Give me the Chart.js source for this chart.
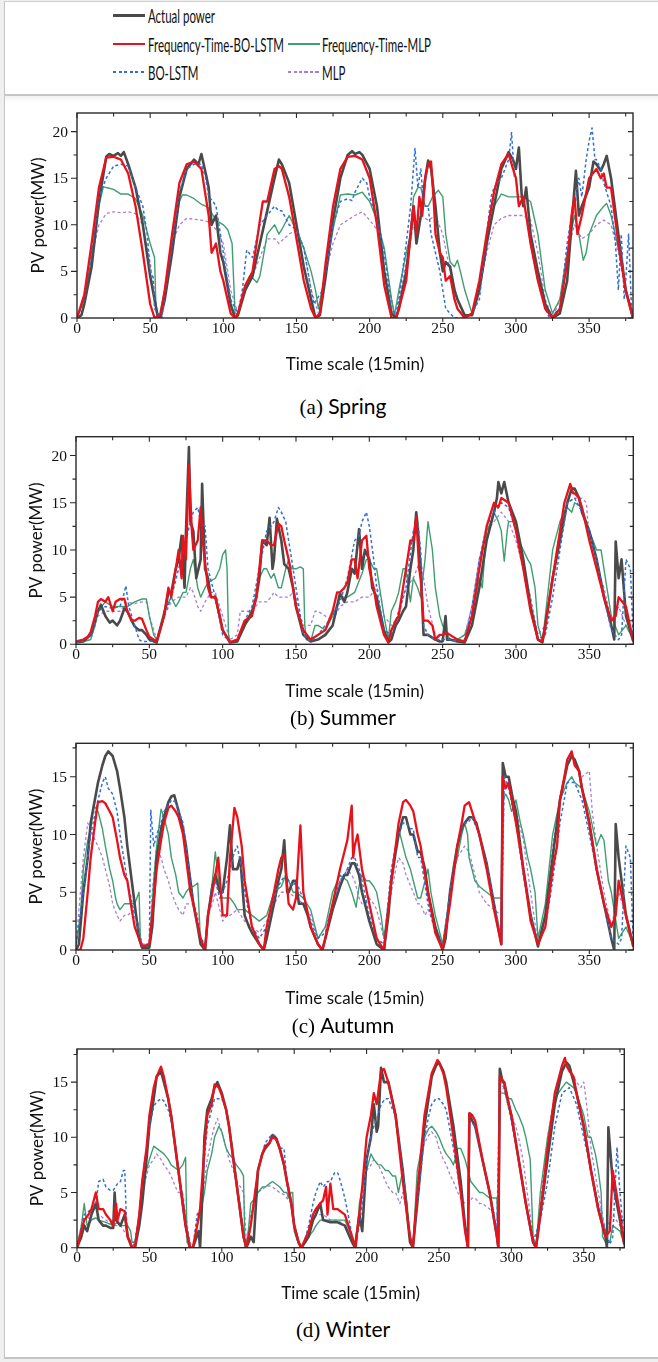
<!DOCTYPE html>
<html>
<head>
<meta charset="utf-8">
<script src="https://cdn.jsdelivr.net/npm/chart.js@4.4.0/dist/chart.umd.min.js"></script>
<style>
  html, body { margin: 0; padding: 0; background: #efefef; }
  #page { position: relative; width: 658px; height: 1362px; overflow: hidden; }
  #sheet { position: absolute; left: 4px; top: 1px; width: 654px; height: 1358px; background: #fff;
           border-left: 1.5px solid #c4c4c4; border-top: 1px solid #cfcfcf; border-bottom: 2px solid #c4c4c4; box-sizing: border-box; }
  #divider { position: absolute; left: 4px; top: 94px; width: 654px; height: 2px; background: #c6c6c6; }
  #shade { position: absolute; left: 5px; top: 96px; width: 653px; height: 6px; background: linear-gradient(#f1f1f1, #fff); }
  .swatch { position: absolute; height: 0; }
  .legend-text { position: absolute; font-family: Lato, sans-serif; font-size: 20px; color: #111; white-space: nowrap;
                 line-height: 1; transform-origin: left center; }
  canvas { position: absolute; left: 0; }
  .caption { position: absolute; transform: translate(-50%, -50%); white-space: nowrap; color: #000; font-size: 21px; }
  .caption .tag { font-family: "Liberation Serif", "Times New Roman", serif; }
  .caption .season { font-family: Lato, sans-serif; }
</style>
</head>
<body>
<div id="page">
  <div id="sheet"></div>
  <div id="divider"></div>
  <div id="shade"></div>
  <div id="legend"></div>
  <canvas id="springChart" width="658" height="280" style="top:100px"></canvas>
  <canvas id="summerChart" width="658" height="290" style="top:420px"></canvas>
  <canvas id="autumnChart" width="658" height="290" style="top:728px"></canvas>
  <canvas id="winterChart" width="658" height="280" style="top:1035px"></canvas>
  <div class="caption" style="left:343px; top:406px"><span class="tag">(a)</span> <span class="season">Spring</span></div>
  <div class="caption" style="left:343px; top:717px"><span class="tag">(b)</span> <span class="season">Summer</span></div>
  <div class="caption" style="left:343px; top:1025px"><span class="tag">(c)</span> <span class="season">Autumn</span></div>
  <div class="caption" style="left:343px; top:1329px"><span class="tag">(d)</span> <span class="season">Winter</span></div>
</div>
<script>
// ---- data: [time step (15 min), PV power (MW)] ----
const seriesNames = ['Actual power', 'Frequency-Time-BO-LSTM', 'Frequency-Time-MLP', 'BO-LSTM', 'MLP'];
const timeTicks = [0, 50, 100, 150, 200, 250, 300, 350];
const powerTicksHigh = [0, 5, 10, 15, 20];
const powerTicksLow = [0, 5, 10, 15];
const xTitle = 'Time scale (15min)';
const yTitle = 'PV power(MW)';

const springActual = [[0,0],[3,0.3],[5,1.5],[10,5.5],[15,12.5],[20,17.3],[22,17.6],[25,17.4],[28,17.7],[30,17.4],[32,17.8],[35,16.5],[40,14],[45,10],[50,4.5],[55,0.3],[57,0],[60,2],[65,7],[70,13],[75,16],[80,17],[83,16.5],[85,17.6],[88,15.5],[90,14],[92,10],[95,11],[98,7],[100,6],[105,1.5],[108,0],[110,0.3],[115,3],[120,4.5],[125,8],[130,11.5],[135,15],[138,17],[140,16.5],[145,14.5],[150,10],[155,5.5],[160,2],[163,0],[166,0.3],[170,4.5],[175,10.5],[180,15],[185,17.5],[188,17.9],[190,17.6],[193,17.8],[195,17.5],[200,16],[205,12],[210,5],[215,0.5],[218,0],[220,1],[225,5],[228,9],[230,12],[232,8],[235,11],[238,15],[240,16.9],[242,16],[245,12],[248,7],[250,5],[252,6],[255,5.5],[258,3],[260,2],[265,0.3],[270,0.3],[275,3],[280,8],[285,12],[290,16],[295,17.8],[298,17],[300,16],[302,18.3],[304,13],[305,12],[307,14],[310,9],[315,5],[320,1.5],[325,0],[330,0.5],[335,4],[338,10],[341,15.8],[343,11],[345,12],[350,14],[353,16.8],[355,16.5],[358,15.8],[360,16.5],[362,17.4],[365,15],[370,9],[375,3],[380,0]];
const springFtBoLstm = [[0,0],[5,2.5],[10,8],[15,14],[20,17.2],[25,17.3],[30,17],[35,15.5],[40,12],[45,7],[50,1.5],[53,0],[57,0.3],[60,3],[65,9],[70,14.5],[75,16.5],[80,16.8],[85,16],[88,13],[90,11],[92,7],[95,8],[98,5],[100,4],[105,0.5],[108,0],[110,0.5],[115,3.5],[120,5],[125,10.5],[127,12.5],[130,12.5],[135,16],[138,16.3],[140,16],[145,13],[150,8.5],[155,4],[160,1],[163,0],[166,0.5],[170,6],[175,12],[180,16],[185,17.3],[190,17.4],[195,17],[200,15],[205,10],[210,3.5],[215,0],[218,0],[220,1],[225,4],[228,9],[230,12],[232,9],[234,13],[236,11],[238,15],[240,16.5],[242,16.8],[244,12],[245,9],[248,7],[250,6.5],[252,4],[255,4.5],[258,2],[260,1],[265,0],[270,0.5],[275,4],[280,9],[285,13.5],[290,16.5],[295,17.6],[298,16],[300,15],[302,12],[305,13],[307,11],[310,8],[315,4],[320,1],[325,0],[330,1],[335,6],[338,11],[340,13],[342,9],[345,11],[350,15],[355,16],[358,15],[360,15.5],[362,14],[365,14],[370,8],[375,3],[380,0]];
const springFtMlp = [[0,0],[5,2],[10,6.5],[15,12],[18,14.1],[20,14],[25,13.8],[30,13.3],[35,13.3],[40,12.8],[45,11],[50,8],[53,6.5],[54,1],[56,0],[60,3],[65,8],[70,12.5],[72,13.2],[75,13.2],[80,12.8],[85,12.2],[88,12],[90,11.8],[95,10.5],[100,10],[103,9.5],[106,8],[108,0.5],[110,0.5],[115,3],[118,4.5],[120,4.3],[123,3.8],[125,4.5],[130,9],[135,10],[138,9],[140,9.5],[145,11],[148,10],[150,9.5],[155,7.5],[160,5],[163,3],[165,1],[170,5],[175,9.5],[180,13.2],[185,13.3],[190,13.2],[195,13.5],[200,12.5],[205,10.5],[210,7.5],[215,2],[217,0.3],[220,3],[225,7],[228,9],[230,13],[233,14],[235,14],[238,12],[240,12],[243,13],[247,13.7],[250,13],[252,9],[255,6],[258,5.5],[260,6.2],[262,5],[265,3],[270,0.5],[275,3],[280,8],[285,12],[290,13.3],[295,13],[300,13],[305,13],[310,12.5],[315,9],[320,3],[325,0.5],[330,2],[335,7],[340,11],[343,9],[346,6.2],[348,7],[350,9],[355,11],[360,12],[362,12.3],[365,11],[370,7.5],[375,3],[380,0.5]];
const springBoLstm = [[0,0],[5,2],[10,7],[15,13],[20,15],[25,16.3],[30,16.5],[35,16.3],[40,14],[45,12],[48,9],[50,5],[52,4.4],[53,1],[55,0.5],[58,0],[60,2.5],[65,8],[70,13.5],[75,16],[80,16.5],[85,16.5],[88,15],[90,13],[93,12.5],[95,12],[98,9],[100,7],[105,2],[110,0.5],[113,3],[116,7.3],[120,6.5],[125,10],[130,11],[135,12],[138,11.5],[140,11.5],[145,10],[150,9.5],[155,7.5],[160,3],[162,1.5],[165,2.3],[168,3],[170,5],[175,10],[180,12.5],[185,12.8],[188,12.6],[190,13.5],[195,15],[198,14.5],[200,13],[205,10.5],[210,7],[215,1],[218,0.3],[220,2],[225,8],[228,12],[231,18.2],[233,14],[235,16],[237,12],[240,12],[242,9],[245,7],[248,5],[250,3],[252,1],[255,0.5],[258,0],[265,0],[270,0.5],[275,2],[280,9],[283,13],[285,14],[290,15],[295,17],[297,19.9],[299,15],[300,15],[302,12],[305,13],[310,8],[315,4],[320,1],[323,0],[325,0.3],[330,1],[335,8],[338,11],[340,12],[343,15],[345,13],[348,17],[350,19],[352,20.4],[354,17],[355,17],[358,16],[360,14.5],[365,12],[368,8],[370,3],[372,9],[374,2],[375,4],[377,9],[379,1],[380,0]];
const springMlp = [[0,0],[5,2],[10,6.5],[15,10],[20,11.2],[25,11.4],[30,11.3],[35,11.4],[40,11.2],[45,10],[50,6],[55,0.5],[58,0.3],[60,3],[65,8],[70,10],[75,10.7],[80,10.6],[85,10.5],[90,10.3],[95,9.5],[100,8],[105,3],[110,0.5],[115,3],[120,4.5],[125,6.5],[130,8.5],[135,8.5],[138,8],[140,8.3],[145,9],[150,9.5],[155,7.5],[160,3],[165,0.5],[170,5],[175,8],[180,10],[185,10.5],[190,11],[195,11.4],[200,10.5],[205,9.5],[210,7],[215,2],[217,0.5],[220,2],[225,6],[230,10],[235,11],[240,10.5],[245,11],[250,9],[255,5],[260,2],[265,0],[270,0.5],[275,3],[280,7],[285,10],[290,10.7],[295,11],[300,11],[305,11],[310,10.5],[315,7],[320,2],[325,0],[330,2],[335,7],[340,10],[345,8.5],[350,9],[355,10],[360,10.5],[365,10],[370,7],[375,3],[380,0]];

const summerActual = [[0,0.2],[5,0.3],[10,1],[13,2.5],[15,3.5],[17,4.2],[20,3],[23,2.3],[25,2.5],[28,2],[30,2.5],[33,3.8],[35,3.5],[38,2.5],[40,1.9],[43,1.5],[45,1.5],[48,1],[50,0.5],[55,0.2],[60,3],[63,5.5],[65,5.5],[68,8],[70,9],[72,11.5],[74,6],[75,12],[77,20.9],[78,13],[80,12],[82,7],[85,9],[86,17],[88,8],[90,7],[92,5],[95,5],[98,3],[100,1.5],[105,0.2],[110,0.3],[115,2],[120,3.5],[123,5],[125,7],[127,11],[130,10.5],[132,13.4],[134,8],[135,9],[137,13.3],[140,11],[142,8.5],[145,8],[148,6],[150,4],[155,1],[160,0.3],[165,0.5],[170,1],[175,2],[178,4],[180,5.4],[183,4.5],[185,5.5],[188,8],[190,7.5],[193,12.2],[195,8],[197,10],[200,9],[202,6],[205,5],[210,1.5],[213,0.2],[215,0.5],[218,2],[220,2.5],[223,3.5],[225,4],[228,8],[230,10],[232,14],[233,12.5],[235,8],[237,1],[240,1],[245,0.5],[248,0.3],[250,0.3],[252,3],[253,0.5],[255,0.5],[260,0.3],[265,0.2],[270,2],[275,6],[280,11],[285,14],[287,15.5],[288,17.2],[290,16],[292,17.2],[295,15],[300,13],[305,9],[310,4],[315,0.5],[318,0.2],[320,2],[325,7],[330,11],[335,15],[338,16.5],[340,16.5],[343,15.5],[345,14],[350,12],[355,9],[360,5],[365,2],[367,0.5],[368,10.9],[370,7],[372,9],[375,3],[380,0.3]];
const summerFtBoLstm = [[0,0.3],[5,0.5],[8,0.8],[10,1.3],[13,3],[15,4.5],[17,4.8],[20,4.5],[22,5],[25,3.5],[27,4.5],[30,4.8],[33,4.8],[35,3.5],[38,2.5],[40,2.5],[43,2.8],[45,2.7],[48,1.5],[50,0.8],[55,0.3],[60,3],[63,6],[65,5],[68,8],[70,10],[72,7],[73,11.5],[75,9],[77,19],[79,12],[80,10],[83,11],[85,14.5],[87,10],[90,6],[92,5],[95,5],[100,1.5],[105,0.2],[110,0.5],[115,2.5],[120,3],[123,5],[125,8],[127,11],[130,11],[133,10.5],[135,10.5],[138,12.8],[140,12.5],[142,11],[145,9],[148,6],[150,4],[155,1.5],[160,0.5],[165,1],[170,1.5],[175,3.5],[178,5.5],[180,5.5],[183,6],[185,6.5],[188,9],[190,9],[192,7],[195,11],[198,11.5],[200,8],[203,6],[205,4],[210,1],[213,0.2],[215,1.5],[218,2.5],[220,3],[223,6],[225,8],[228,11],[230,11],[232,13.5],[234,8],[235,7],[237,2.5],[240,2.5],[243,2],[245,0.5],[248,1],[250,1],[253,1.2],[255,1],[260,0.5],[265,0.3],[270,3],[275,8],[280,12.5],[285,15],[288,14.5],[290,15.5],[295,15],[300,12],[305,8],[310,3.5],[315,0.5],[318,0.3],[320,2],[325,7],[330,12],[333,15],[335,16],[337,17],[339,16],[340,16],[343,15.5],[345,14.5],[350,11],[355,8],[360,5],[365,2.5],[368,3],[370,5],[375,4],[380,0.3]];
const summerFtMlp = [[0,0.2],[5,0.3],[10,0.5],[13,2],[15,3.5],[20,4.5],[25,4],[30,4],[35,4],[40,4.5],[45,4.8],[48,4.8],[50,3],[53,1],[55,0.5],[60,3.5],[65,5],[68,4],[70,4.5],[73,5.5],[75,5.5],[78,8],[80,9],[83,6],[85,5],[88,6],[90,6.5],[95,7],[98,8],[100,9.5],[102,10],[103,8],[104,1],[105,0.3],[110,0.3],[115,2],[120,3],[125,7],[128,8],[130,8],[133,7],[135,7.5],[138,6],[140,6],[143,8],[145,9],[147,8],[150,8],[153,8.2],[155,8],[156,2],[157,0.5],[160,0.3],[163,2],[165,2],[170,1.5],[175,3],[180,5],[185,5],[190,5.5],[195,7.5],[198,9],[200,9],[203,8],[205,8],[208,5],[210,3],[213,0.5],[215,3.5],[218,4.5],[220,5.5],[223,8],[225,8],[228,4.5],[230,7],[233,6],[235,5],[238,9],[240,13],[242,11],[243,10],[245,6],[248,3],[250,2],[255,0.5],[260,0.5],[265,1],[270,3],[275,7],[277,6],[280,12],[283,13],[285,14],[288,13],[290,12],[292,8.8],[294,12],[295,13],[298,13],[300,13],[302,11],[305,10],[308,9],[310,8.5],[313,6],[315,2],[318,0.3],[320,3],[325,10],[330,13],[333,14],[335,14.5],[338,14],[340,15],[345,14.5],[350,12],[355,10],[358,10],[360,8],[365,3],[370,1],[375,2],[380,0.5]];
const summerBoLstm = [[0,0.2],[5,0.3],[10,1],[15,3.5],[20,4],[25,3.8],[30,4],[33,5.5],[34,6.2],[36,4],[40,2],[43,0.5],[45,0.3],[50,0.3],[55,0.5],[60,3],[65,5],[70,8],[75,11],[78,13],[80,14],[83,14.5],[85,13],[88,12.5],[90,8],[95,5],[100,1],[105,0.3],[110,0.5],[115,2.5],[120,4],[125,8],[130,12],[133,12.5],[135,13],[138,14.5],[140,14],[143,13],[145,11],[148,8],[150,6],[155,1],[160,0.3],[165,1],[170,2],[175,3],[180,4.5],[185,7],[190,11],[193,11.5],[195,13],[198,14],[200,12.5],[203,9],[205,6],[210,1.5],[215,1],[220,3.5],[225,6],[230,12],[233,13],[235,10],[237,2],[240,1],[245,0.5],[250,0.5],[255,0.5],[260,0.3],[265,0.5],[270,4],[275,9],[280,12.5],[285,14],[290,15],[295,14.5],[300,12],[305,8],[310,3.5],[315,0.5],[320,1],[325,5],[330,10],[335,15],[340,15.5],[345,14],[350,12],[355,9],[360,5],[365,1.5],[370,0.5],[372,1],[375,9],[378,8],[380,0.5]];
const summerMlp = [[0,0.2],[5,0.3],[10,0.5],[15,3],[20,3.5],[25,3.5],[30,3.5],[35,4.5],[40,4.3],[45,4.5],[48,4.5],[50,3],[55,0.5],[60,3],[65,4.5],[70,5],[75,5],[78,6],[80,5.5],[83,4],[85,3.5],[88,4.5],[90,5],[92,5.5],[95,5.5],[98,4],[100,3],[105,0.5],[110,1],[112,3.5],[115,3.5],[120,3.5],[125,4.5],[130,4.5],[133,5],[135,5.5],[138,5],[140,5],[145,5],[148,5.5],[150,5],[153,3],[155,2],[160,2],[163,3.5],[165,3.5],[170,3],[175,2.5],[180,4],[185,4.5],[190,4.5],[195,5],[200,5],[205,6],[208,5],[210,3],[215,2],[220,3],[225,6],[230,7],[235,9],[238,6],[240,4],[245,1],[250,0.5],[255,0.5],[260,0.5],[265,1],[270,4],[275,9],[280,12],[285,13],[290,14],[295,13],[300,11],[305,8],[310,5],[315,1],[320,2],[325,7],[330,12],[335,15],[340,15.5],[345,15.5],[348,15],[350,11],[355,8],[360,6],[365,2.5],[370,4],[375,2],[380,0.5]];

const autumnActual = [[0,0],[2,0.5],[5,5],[8,8],[10,11],[15,14.5],[18,16],[20,16.8],[22,17.2],[25,16.8],[28,15.5],[30,14],[33,11.5],[35,9],[38,6],[40,4],[43,1],[45,0.2],[50,0.2],[52,2],[55,8],[58,10.5],[60,11.5],[63,12.8],[65,13.3],[67,13.4],[70,12],[73,10.5],[75,9],[78,6],[80,4],[83,2],[85,0.5],[88,0],[90,3],[93,5.5],[95,6.5],[98,5],[100,5],[103,8],[105,10.8],[107,7],[110,7],[112,8],[115,3],[118,2],[120,1.5],[125,0.5],[128,0],[130,1],[135,4],[138,6],[140,7],[142,9.5],[144,5],[145,5],[148,6],[150,6],[152,4],[155,4],[158,3],[160,2],[165,0.5],[168,0],[170,1],[175,3.5],[180,5.5],[183,6.5],[185,6.5],[188,7.5],[190,7.5],[193,6.5],[195,5],[200,2.5],[205,0.5],[210,0],[213,3],[215,6],[218,8.5],[220,10],[223,11.5],[225,11.5],[228,10],[230,10],[233,8.5],[235,8.5],[238,7],[240,5],[245,2],[250,0],[252,1],[255,5],[258,7.5],[260,9],[263,10.5],[265,11],[268,11.5],[270,11.5],[273,11],[275,10],[280,7.5],[285,4],[290,0.5],[291,16.2],[293,15],[295,15],[298,13],[300,12],[305,7],[310,3],[315,0.3],[320,3],[325,8],[330,13],[335,16],[338,16.8],[340,16.5],[343,15.5],[345,14],[350,11],[355,7],[360,4],[365,1],[367,0],[368,10.9],[370,8],[375,3],[380,0.3]];
const autumnFtBoLstm = [[0,0],[3,0],[5,1],[8,5],[10,8],[13,11],[15,12.8],[18,12.9],[20,12.7],[23,12],[25,11.5],[28,9.5],[30,8],[33,6.5],[35,6],[38,3.5],[40,2],[45,0.3],[50,0.5],[52,3],[55,7],[58,9.5],[60,11],[63,12.3],[65,12.5],[68,12],[70,11.5],[73,10],[75,8],[78,5],[80,4],[85,1],[88,0],[90,3],[93,5],[95,6.5],[97,8],[100,3],[103,3],[105,8],[108,12.3],[110,11.5],[113,9],[115,6],[120,2],[125,0.5],[128,0],[130,2],[135,5],[138,7],[140,8],[142,8.3],[145,4],[148,3.5],[150,4.5],[153,10.8],[155,5],[160,2],[165,0.5],[168,0],[170,1],[175,4],[180,7],[185,9.5],[188,12.5],[189,8],[190,9],[192,10],[195,7],[200,4],[205,1],[210,0],[215,6],[220,11],[223,12.8],[225,13],[228,12.5],[230,12],[233,10],[235,9],[238,6.5],[240,5],[245,1.5],[250,0],[255,4],[260,9],[263,11],[265,12.5],[268,12.8],[270,12],[275,10],[280,7],[285,3.5],[290,0.5],[291,15],[293,14],[295,14.5],[300,11],[305,7],[310,2.5],[315,0.5],[320,2],[325,7],[328,9],[330,13],[333,15],[335,16.5],[338,17.2],[340,16],[343,15.5],[345,14],[350,11],[355,7],[360,4],[365,2],[368,3],[370,6],[375,3],[380,0.3]];
const autumnFtMlp = [[0,0.3],[3,3],[5,7],[8,9.5],[10,10.5],[12,12.5],[15,12],[18,10.5],[20,9],[23,7],[25,6],[27,4.5],[28,4],[30,3.5],[33,4],[35,4],[38,4],[40,4],[43,5],[44,0.5],[45,0.3],[50,0.3],[53,6],[55,9],[58,12.2],[60,11.5],[63,10],[65,8],[68,6.5],[70,5],[73,4.5],[75,5],[78,5.5],[80,5.5],[83,5.8],[85,0.5],[88,0.3],[90,3],[93,6],[95,8.5],[98,5],[100,4.5],[103,4.5],[105,4.5],[108,4],[110,3.5],[115,3.5],[120,3],[125,2.5],[130,3],[135,5],[140,5.5],[143,6.5],[145,6],[148,5],[150,5],[155,4.5],[160,3.5],[165,1],[170,2],[175,5],[180,6.5],[185,6],[188,5],[191,3.7],[193,5.5],[195,6.5],[198,6],[200,6],[203,5.5],[205,5],[208,3],[210,1],[213,4],[215,6],[218,9],[220,10.5],[223,9],[225,8],[228,7],[230,6],[233,4.5],[235,4.5],[238,6],[240,7],[242,5],[245,3],[250,0.5],[253,3],[255,5],[258,7],[260,8],[263,10],[265,11],[267,10],[268,8],[270,7],[272,6],[275,5.5],[280,5],[285,4.5],[290,4.5],[291,13],[293,13.5],[295,13],[297,12],[300,13],[303,11],[305,10],[308,8],[310,7],[313,5],[315,1],[320,4],[325,10],[330,13],[335,14.5],[338,15],[340,14.5],[345,14],[350,12],[355,9],[358,10],[360,9.5],[363,6],[365,5],[370,1],[375,2],[380,0.5]];
const autumnBoLstm = [[0,0.5],[5,5],[10,10],[15,13],[18,14.5],[20,15],[22,14],[25,13.5],[28,12],[30,10],[35,6],[40,3],[45,0.5],[50,0.5],[51,12.1],[53,9],[55,10],[58,11],[60,12],[63,12.5],[65,13],[68,12.8],[70,12],[73,11],[75,9],[78,6],[80,4],[85,1],[88,0.5],[90,3],[93,5.5],[95,6],[98,4.5],[100,5],[103,6],[105,7],[108,8.5],[110,9],[113,7],[115,5],[120,2],[125,1],[130,2],[135,4.5],[138,5.5],[140,6],[143,6.5],[145,6],[148,5.5],[150,6],[153,5],[155,4.5],[160,2.5],[165,1],[170,1.5],[175,4],[180,6],[183,6.5],[185,7],[188,8],[190,8],[193,7],[195,6],[200,3],[205,1],[210,0.5],[215,7],[218,9],[220,10],[223,11],[225,11],[228,10.5],[230,10.5],[233,8],[235,8],[240,4],[245,1.5],[250,0.3],[255,5],[260,9],[265,11],[267,11],[270,11.5],[275,10],[280,7.5],[285,4],[290,1],[292,15],[295,14],[300,11],[305,6.5],[310,3],[315,0.5],[320,2],[325,6],[330,11],[335,14.5],[340,14.5],[345,13],[350,10],[355,7],[360,4],[365,1],[370,0.5],[372,1],[375,9],[378,8],[380,0.5]];
const autumnMlp = [[0,0.5],[3,5],[5,8],[8,11],[10,10.5],[13,9.5],[15,9],[18,8],[20,7],[23,5.5],[25,4],[28,3],[30,2.5],[33,3],[35,3],[40,3.5],[43,2],[45,0.5],[50,0.5],[52,5],[55,9],[58,8],[60,7],[63,6],[65,5],[68,4],[70,3.5],[73,3],[75,4],[78,4],[80,4],[83,3],[85,0.5],[88,0.3],[90,3],[93,4],[95,5],[98,3.5],[100,2.5],[103,3],[105,3],[110,3.5],[115,2.5],[120,2],[125,1.5],[130,2.5],[135,4],[140,5],[145,5],[150,4.5],[155,4],[160,3],[165,1],[170,2],[175,4],[180,6],[185,7],[188,6.5],[190,6],[193,4.5],[195,4],[200,4.5],[203,4],[205,3.5],[210,1],[215,5],[218,7],[220,8],[223,7.5],[225,6.5],[230,5],[233,4],[235,4],[238,3],[240,3.5],[245,2],[250,0.5],[255,5],[258,7],[260,8],[265,9],[268,8.5],[270,7.5],[275,5],[280,4],[285,3.5],[290,3],[292,14],[295,14],[300,12],[305,9.5],[310,5],[315,0.5],[320,3],[325,9],[330,13],[335,16],[338,16.8],[340,16.5],[345,15],[350,15.5],[352,12],[355,9],[360,5],[365,2],[370,5],[375,3],[380,0.5]];

const winterActual = [[0,0],[3,1],[5,2],[7,1.5],[10,3],[13,4],[15,2.5],[18,2],[20,2],[23,1.8],[25,1.8],[26,5],[27,2.5],[30,2],[33,3],[35,1],[38,0],[40,0],[43,2],[45,4],[48,8],[50,11],[53,13.5],[55,15.5],[58,16],[60,15],[63,13.5],[65,12],[68,9],[70,7],[73,4],[75,2],[78,0],[80,0],[84,1.5],[85,0],[87,6],[88,10],[90,12.5],[93,13.5],[95,14.5],[97,15],[100,14],[103,12.5],[105,11],[108,8],[110,6],[113,3],[115,1],[117,0],[120,1],[122,0.5],[125,7],[128,8.5],[130,9],[133,9.5],[135,10.2],[137,10],[140,9],[143,7.5],[145,6],[148,4],[150,2],[153,0.5],[155,0],[160,1],[163,2.5],[165,3],[168,4],[170,2.5],[175,2.3],[180,2.3],[185,2],[190,0.5],[192,0],[195,3],[197,1.5],[200,8],[203,10],[205,13],[207,10.5],[208,11],[210,16.3],[212,15],[215,15],[220,12],[225,7],[228,3],[230,0.5],[232,0],[235,4],[240,11],[245,15.5],[248,16.5],[250,16.8],[253,16],[255,15],[260,11],[265,6],[268,2],[270,0],[271,12.1],[273,11.5],[275,11],[280,8],[285,5],[290,1],[291,0],[292,16.2],[294,15],[295,15],[298,13],[300,12],[305,8],[310,4],[315,0.5],[317,0],[320,3],[325,8],[330,13],[335,16],[338,16.8],[340,16.5],[345,14],[350,11],[355,7],[360,3.5],[365,1],[366,0],[367,10.9],[370,6],[375,2.5],[378,0.3]];
const winterFtBoLstm = [[0,0],[5,2.5],[8,3],[10,3.5],[13,5],[15,3.5],[18,3.5],[20,3],[23,2.5],[25,2],[27,4],[28,2.5],[30,3.5],[33,3.3],[35,1],[38,0],[40,0],[43,3],[45,6],[48,9],[50,12],[53,14.5],[55,15.5],[58,16.4],[60,15.5],[63,13.5],[65,12],[68,9],[70,7],[73,4],[75,2],[78,0],[80,0],[83,2],[85,3.5],[88,9],[90,12],[93,13],[95,14.8],[98,14.5],[100,13.8],[103,12.5],[105,11],[108,8],[110,6],[113,3],[115,1],[117,0],[120,2],[123,5],[125,7],[128,8.5],[130,9.2],[133,9.5],[135,10],[138,9.8],[140,9],[143,7.5],[145,6],[148,4],[150,2],[153,0.5],[155,0],[160,1.5],[163,3],[165,3.5],[168,4],[170,4.3],[172,5.5],[173,3],[175,5.8],[177,3.5],[180,3.5],[185,3],[190,1],[192,0],[195,3],[197,5.5],[200,10],[203,12],[205,14],[207,13],[210,16],[212,16.2],[215,15],[220,12],[225,6],[230,1],[232,0],[235,5],[240,12],[245,15.8],[249,17],[250,16.8],[253,15.8],[255,14.5],[260,10],[265,5],[268,1.5],[270,0],[271,12.2],[273,12],[275,11.5],[280,8],[285,5],[290,1],[291,0],[292,15.5],[295,15],[300,12],[305,8],[310,4],[315,0.5],[317,0],[320,3],[325,9],[330,14],[333,15.5],[335,16.5],[337,17.2],[338,16.5],[340,16],[343,15.5],[345,14],[350,11],[355,7],[360,3.5],[365,1],[368,1.5],[370,7],[375,3],[378,0.3]];
const winterFtMlp = [[0,0],[3,2],[5,4],[7,2],[10,2.5],[13,2.7],[15,2.5],[20,2.3],[25,2],[28,2.3],[30,2],[35,2],[37,1.5],[38,0.5],[40,0.5],[43,3],[45,6],[48,7],[50,8],[53,9.2],[55,9],[58,8.7],[60,8.5],[63,8],[65,7.5],[68,7.2],[70,7],[73,7.5],[75,8.2],[76,0.5],[78,0],[80,0],[83,2],[85,3],[88,5],[90,7],[93,8.5],[95,10],[98,11],[100,10.5],[103,9],[105,8.5],[108,8],[110,7.5],[113,7],[115,6.5],[116,0],[118,1],[120,4],[123,4.5],[125,5],[128,5.5],[130,5.5],[133,5.8],[135,6],[138,5.7],[140,5.5],[143,5],[145,5],[146,4.5],[148,5],[149,5],[150,1.5],[153,0.3],[155,0],[158,0.5],[160,1],[163,1.5],[165,2],[168,2.5],[170,2.5],[175,2.5],[180,2.5],[185,2.5],[190,1],[193,0],[195,4],[198,6],[200,7],[203,8.5],[205,8],[208,7.5],[210,7.5],[213,7],[215,7],[218,6.5],[220,6.5],[222,5],[225,7],[228,4],[230,0.5],[232,0],[235,7],[238,9],[240,10],[243,10.8],[245,11],[248,10.5],[250,10],[253,9],[255,8.5],[258,8],[260,7.5],[263,9],[265,9],[268,8],[270,7],[272,6],[275,5.5],[278,5],[280,5],[285,4.5],[290,4.5],[291,0.5],[292,14],[295,14],[298,13.5],[300,13.5],[303,12.5],[305,12],[308,11],[310,10],[313,8],[315,1],[317,0],[320,5],[325,10],[330,13.5],[335,14.5],[338,15],[340,14.8],[343,14.5],[345,14],[350,12],[353,10],[355,10],[358,8.5],[360,7],[362,5],[363,1],[365,0.5],[368,0.5],[370,2],[375,1.5],[378,0.3]];
const winterBoLstm = [[0,0],[5,3],[10,3.5],[13,4],[15,6],[18,6.2],[20,5.5],[23,5.2],[25,5.2],[28,5.8],[30,6],[32,7],[33,7],[34,3],[35,1],[38,0],[40,0.5],[43,3],[45,6],[48,9],[50,11],[53,12.8],[55,13.2],[58,13.5],[60,13.3],[63,12.5],[65,11.5],[68,9],[70,7],[73,4.5],[75,2.5],[78,0],[80,0],[83,3],[85,3.5],[88,8],[90,11],[93,12.5],[95,13.5],[98,13.5],[100,13.5],[103,12.5],[105,11],[108,8.5],[110,6],[113,3.5],[115,1.5],[117,0],[120,2],[123,5],[125,7],[128,8.5],[130,9.5],[133,10],[135,10.3],[138,10],[140,9],[143,9],[145,6],[148,4],[150,2],[153,0.5],[155,0],[158,1],[160,2],[163,4],[165,5],[168,6],[170,5.5],[173,6],[175,6],[178,6.8],[180,6.8],[182,6],[185,4.5],[188,2.5],[190,1],[192,0],[195,2],[198,5],[200,8],[203,10],[205,11],[208,12],[210,13],[213,13.5],[215,13.5],[218,12.5],[220,12],[223,9],[225,7],[230,1],[232,0],[235,4],[240,10],[243,12],[245,13],[248,13.5],[250,13.5],[253,13],[255,12.5],[260,9],[265,5],[268,2],[270,0.5],[271,11.5],[275,11],[280,8],[285,5],[290,1.5],[292,15],[295,14.5],[300,11.5],[305,8],[310,4],[315,0.5],[320,2.5],[325,6],[330,11],[335,14],[340,14.5],[345,13],[350,10],[355,7],[360,4],[365,1.5],[368,0.3],[370,1],[373,9.1],[375,5],[378,0.3]];
const winterMlp = [[0,0],[3,2],[5,3],[10,2.5],[15,3],[20,2.5],[25,2],[30,2],[35,1],[38,0.5],[40,0.5],[43,2.5],[45,5],[48,6.5],[50,7.5],[53,8],[55,8.5],[58,8],[60,7.5],[63,7],[65,6.5],[68,5.5],[70,5],[73,5],[75,3],[78,0.5],[80,0],[83,2],[85,3],[88,6],[90,8],[93,10],[95,11],[97,11.7],[100,10.5],[103,9],[105,8],[108,7],[110,6],[113,5.5],[115,5],[117,0.5],[120,3],[123,4],[125,5],[128,5.3],[130,5.5],[133,5.6],[135,5.5],[138,5.2],[140,5],[143,4.8],[145,4.5],[148,4],[150,2],[153,0.5],[155,0],[158,0.8],[160,1.5],[163,2.5],[165,3],[170,3],[175,2.5],[180,2.5],[185,2],[190,1],[192,0],[195,3],[198,5],[200,7],[203,7.5],[205,8],[208,7.5],[210,7],[213,6],[215,5.5],[218,5],[220,5],[223,4],[225,5],[228,3],[230,0.5],[232,0],[235,6],[238,8],[240,9.5],[243,10.2],[245,10.5],[248,10],[250,9],[253,8],[255,7.5],[258,6.5],[260,6],[263,5],[265,4.5],[268,4],[270,4],[273,4.5],[275,4.5],[278,4],[280,4],[285,3.5],[290,3],[291,0.5],[292,14],[295,14.5],[298,13],[300,12],[303,11],[305,10],[308,8],[310,6],[313,3],[315,1],[317,0],[320,4],[325,10],[330,14],[333,15.5],[335,16],[338,16.5],[340,16.5],[343,15.5],[345,15],[348,14.5],[350,15],[352,13],[355,9],[360,5],[365,1.5],[370,3],[375,2],[378,0.3]];

// ---- styling ----
const seriesStyles = [
  { color: '#4a4a4a', width: 2.6, dash: [] },
  { color: '#e8121b', width: 2.3, dash: [] },
  { color: '#3f9e70', width: 1.4, dash: [] },
  { color: '#2f6fd6', width: 1.5, dash: [3, 2.5] },
  { color: '#a77fd6', width: 1.3, dash: [3, 2.5] }
];
// draw order: first dataset ends up on top
const drawOrder = [1, 3, 0, 2, 4];
const serifFont = '15.5px "Liberation Serif", "Times New Roman", serif';
const titleFont = '17px Lato, sans-serif';

const panels = [
  { id: 'springChart', series: [springActual, springFtBoLstm, springFtMlp, springBoLstm, springMlp],
    xMax: 380, yMax: 22, yTicks: powerTicksHigh, top: 13, left: 77, right: 25, xAxisH: 62, xTitleY: 265, yTitleX: 39 },
  { id: 'summerChart', series: [summerActual, summerFtBoLstm, summerFtMlp, summerBoLstm, summerMlp],
    xMax: 380, yMax: 22, yTicks: powerTicksHigh, top: 16.7, left: 76, right: 24.7, xAxisH: 65.7, xTitleY: 272, yTitleX: 37 },
  { id: 'autumnChart', series: [autumnActual, autumnFtBoLstm, autumnFtMlp, autumnBoLstm, autumnMlp],
    xMax: 380, yMax: 17.9, yTicks: powerTicksLow, top: 15.3, left: 76, right: 24.7, xAxisH: 68, xTitleY: 271, yTitleX: 37 },
  { id: 'winterChart', series: [winterActual, winterFtBoLstm, winterFtMlp, winterBoLstm, winterMlp],
    xMax: 378, yMax: 18, yTicks: powerTicksLow, top: 14, left: 77, right: 33.7, xAxisH: 67.3, xTitleY: 259, yTitleX: 38 }
];

// frame, Origin-style ticks, tick labels and axis titles
const frameTicks = {
  id: 'frameTicks',
  afterDatasetsDraw(chart, args, opts) {
    const { ctx, chartArea: area, scales: { x, y } } = chart;
    ctx.save();
    ctx.strokeStyle = '#2a2a2a';
    ctx.lineWidth = 1.1;
    ctx.beginPath();
    for (let t = 0; t <= x.max; t += 25) {
      const px = x.getPixelForValue(t);
      const major = t % 50 === 0;
      ctx.moveTo(px, area.bottom); ctx.lineTo(px, area.bottom + (major ? 4 : 3));
      ctx.moveTo(px, area.top); ctx.lineTo(px, area.top + (major ? 5 : 3.5));
    }
    for (let v = 0; v <= y.max; v += 2.5) {
      const py = y.getPixelForValue(v);
      const major = v % 5 === 0;
      ctx.moveTo(area.left - (major ? 6 : 3.5), py); ctx.lineTo(area.left, py);
      ctx.moveTo(area.right - (major ? 5 : 3.5), py); ctx.lineTo(area.right, py);
    }
    ctx.stroke();
    ctx.lineWidth = 1.4;
    ctx.strokeRect(area.left, area.top, area.right - area.left, area.bottom - area.top);

    ctx.fillStyle = '#111';
    ctx.font = serifFont;
    ctx.textBaseline = 'alphabetic';
    ctx.textAlign = 'center';
    timeTicks.forEach(v => ctx.fillText(String(v), x.getPixelForValue(v), area.bottom + 14.5));
    ctx.textAlign = 'right';
    opts.yTicks.forEach(v => ctx.fillText(String(v), area.left - 9, y.getPixelForValue(v) + 5));

    ctx.font = titleFont;
    ctx.textAlign = 'center';
    ctx.textBaseline = 'middle';
    ctx.fillText(xTitle, (area.left + area.right) / 2, opts.xTitleY);
    ctx.translate(opts.yTitleX, (area.top + area.bottom) / 2);
    ctx.rotate(-Math.PI / 2);
    ctx.fillText(yTitle, 0, 0);
    ctx.restore();
  }
};

function buildPanel(p) {
  const datasets = drawOrder.map(i => ({
    label: seriesNames[i],
    data: p.series[i].map(([t, v]) => ({ x: t, y: v })),
    borderColor: seriesStyles[i].color,
    borderWidth: seriesStyles[i].width,
    borderDash: seriesStyles[i].dash,
    pointRadius: 0,
    tension: 0,
    fill: false,
    borderJoinStyle: 'round'
  }));

  new Chart(document.getElementById(p.id), {
    type: 'line',
    data: { datasets },
    options: {
      responsive: false,
      animation: false,
      events: [],
      layout: { padding: { top: p.top, right: p.right, left: 0, bottom: 0 } },
      plugins: {
        legend: { display: false },
        tooltip: { enabled: false },
        frameTicks: { yTicks: p.yTicks, xTitleY: p.xTitleY, yTitleX: p.yTitleX }
      },
      scales: {
        x: {
          type: 'linear', min: 0, max: p.xMax,
          grid: { display: false }, border: { display: false },
          ticks: { display: false },
          afterFit: s => { s.height = p.xAxisH; }
        },
        y: {
          min: 0, max: p.yMax,
          grid: { display: false }, border: { display: false },
          ticks: { display: false },
          afterFit: s => { s.width = p.left; }
        }
      }
    },
    plugins: [frameTicks]
  });
}

// ---- legend box at the top ----
function buildLegend() {
  const box = document.getElementById('legend');
  const items = [
    { i: 0, sx: 113, tx: 148, cy: 15 },
    { i: 1, sx: 113, tx: 148, cy: 44 },
    { i: 2, sx: 288, tx: 322, cy: 44 },
    { i: 3, sx: 113, tx: 148, cy: 72 },
    { i: 4, sx: 288, tx: 322, cy: 72 }
  ];
  const spans = [];
  items.forEach(it => {
    const st = seriesStyles[it.i];
    const sw = document.createElement('div');
    sw.className = 'swatch';
    const h = Math.max(2, Math.round(st.width));
    sw.style.cssText = `left:${it.sx}px; top:${it.cy - h / 2}px; width:32px; height:${h}px;` +
      (st.dash.length
        ? `background: repeating-linear-gradient(90deg, ${st.color} 0 3px, transparent 3px 5.5px);`
        : `background:${st.color};`);
    box.appendChild(sw);
    const tx = document.createElement('span');
    tx.className = 'legend-text';
    tx.textContent = seriesNames[it.i];
    tx.style.left = it.tx + 'px';
    tx.style.top = it.cy + 'px';
    box.appendChild(tx);
    spans.push(tx);
  });
  // the legend lettering in the figure is horizontally condensed
  const k = 136 / spans[1].getBoundingClientRect().width;
  spans.forEach(s => { s.style.transform = `translateY(-50%) scaleX(${k})`; });
}

buildLegend();
panels.forEach(buildPanel);
</script>
</body>
</html>
